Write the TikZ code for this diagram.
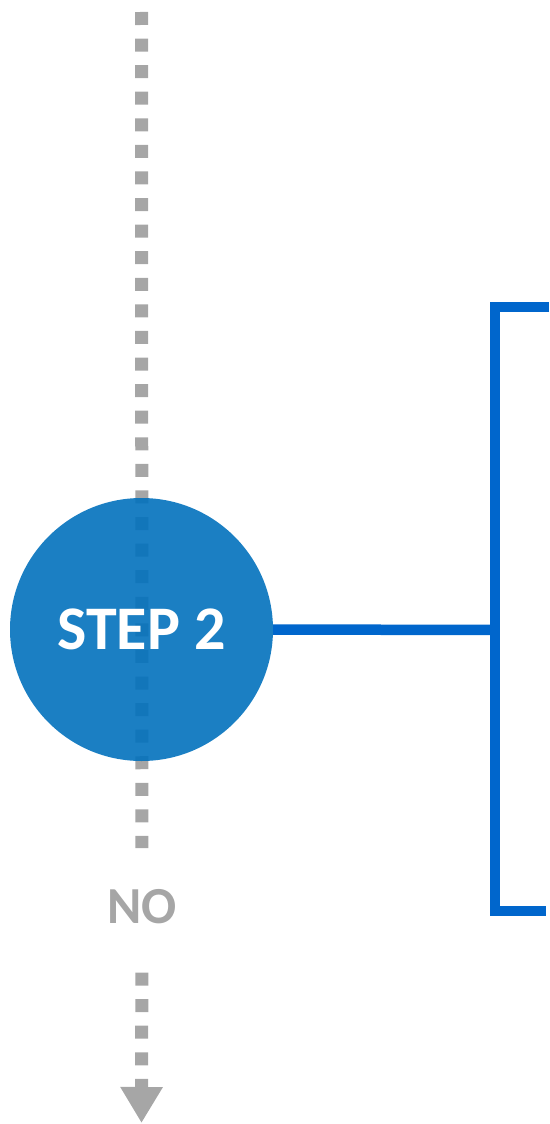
\documentclass[tikz,border=0pt]{standalone}
\usepackage{fontspec}
\setmainfont{Carlito}
\usetikzlibrary{arrows.meta,backgrounds}
\definecolor{stepblue}{RGB}{2,113,189}
\definecolor{linkblue}{RGB}{0,102,204}
\definecolor{flowgray}{RGB}{166,166,166}
\tikzset{
  flowdash/.style={draw=flowgray, line width=13pt, dash pattern=on 13pt off 13.58pt},
  stepcircle/.style={circle, inner sep=0pt, minimum size=263pt, fill=stepblue, fill opacity=0.9, text opacity=1, text=white, font=\bfseries\fontsize{62}{62}\selectfont},
  nolabel/.style={inner sep=0pt, text=flowgray, font=\bfseries\fontsize{52}{52}\selectfont},
  bracketline/.style={draw=linkblue, line width=10.5pt, line join=miter}
}
\begin{document}
\begin{tikzpicture}[x=1pt,y=-1pt]
\useasboundingbox (0,0) rectangle (549,1124);
\coordinate (top) at (141.5,12);
\coordinate (tip) at (141.5,1123);
\node[stepcircle] (step) at (141.5,629.5) {STEP 2};
\node[nolabel, anchor=base] (no) at (142,923) {NO};
\coordinate (brk) at (495,630);
\coordinate (btop) at (549,307);
\coordinate (bbot) at (546,911);
\begin{scope}[on background layer]
\draw[flowdash, shorten >=40.5pt] (top) -- (no.north);
\draw[flowdash, shorten <=49pt, -{Triangle[width=40pt,length=36pt]}, flowgray] (no.south) -- (tip);
\end{scope}
\draw[bracketline] (step.east) -- (brk);
\draw[bracketline] (btop) -- (495,307) -- (495,911) -- (bbot);
\end{tikzpicture}
\end{document}
